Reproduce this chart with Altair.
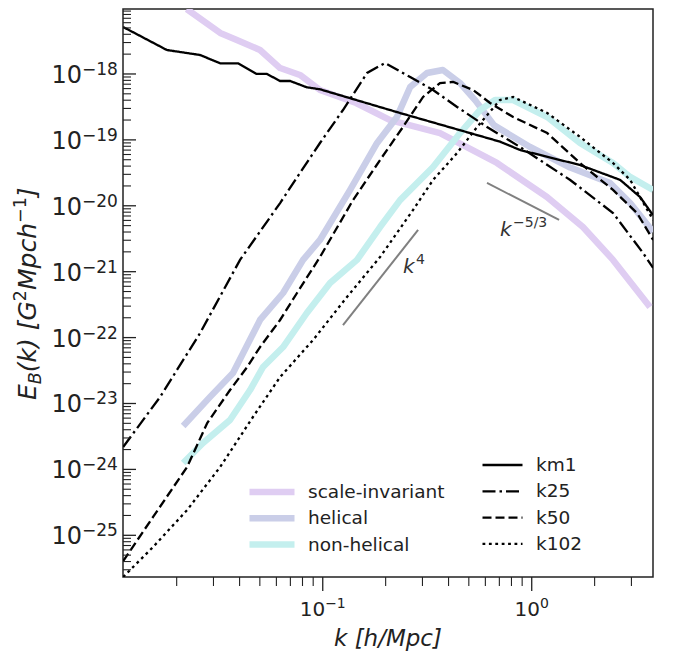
import altair as alt
import pandas as pd

# ---------------- data ----------------
km1_k = [0.01109, 0.01795, 0.0259, 0.0323, 0.0394, 0.0483, 0.0540, 0.0625, 0.0698, 0.0838, 0.0970,
         0.234, 0.705, 0.879, 1.70, 2.65, 3.30, 3.80]
km1_E = [5.16e-18, 2.31e-18, 1.94e-18, 1.45e-18, 1.45e-18, 1.0e-18, 1.0e-18, 7.83e-19, 7.83e-19, 6.28e-19, 5.86e-19,
         2.56e-19, 9.4e-20, 7.03e-20, 4.16e-20, 2.47e-20, 1.36e-20, 7.24e-21]

k25_k = [0.01109, 0.01667, 0.02588, 0.0402, 0.0625, 0.0778, 0.0970, 0.125, 0.163, 0.1986, 0.262, 0.3373,
         0.4395, 0.611, 0.879, 1.528, 2.449, 3.41, 3.81]
k25_E = [2.19e-24, 1.26e-23, 1.17e-22, 1.51e-21, 1.10e-20, 3.15e-20, 8.97e-20, 2.84e-19, 1.035e-18, 1.47e-18, 9.0e-19, 5.71e-19,
         3.16e-19, 1.57e-19, 7.80e-20, 2.46e-20, 7.78e-21, 1.92e-21, 1.14e-21]

k50_k = [0.01109, 0.01542, 0.02244, 0.0280, 0.0360, 0.0435, 0.0501, 0.0625, 0.0753, 0.0970, 0.1396, 0.188,
         0.242, 0.302, 0.364, 0.421, 0.525, 0.632, 0.815, 1.186, 1.702, 2.449, 3.19, 3.81]
k50_E = [4.07e-26, 1.90e-25, 1.09e-24, 5.06e-24, 1.60e-23, 3.58e-23, 7.19e-23, 1.85e-22, 4.75e-22, 1.67e-21, 1.22e-20, 4.95e-20,
         1.57e-19, 4.48e-19, 7.29e-19, 7.57e-19, 5.71e-19, 3.63e-19, 2.22e-19, 1.27e-19, 4.46e-20, 1.74e-20, 7.78e-21, 3.03e-21]

k102_k = [0.01109, 0.01542, 0.02244, 0.0323, 0.04634, 0.0625, 0.0899, 0.1306, 0.188, 0.2704, 0.3373, 0.4395,
          0.548, 0.705, 0.815, 1.186, 1.702, 2.449, 2.958, 3.81]
k102_E = [2.33e-26, 6.65e-26, 2.42e-25, 1.09e-24, 6.24e-24, 2.52e-23, 9.2e-23, 4.13e-22, 1.67e-21, 8.63e-21, 2.47e-20, 6.32e-20,
          1.57e-19, 4.03e-19, 4.48e-19, 2.56e-19, 1.11e-19, 4.46e-20, 2.47e-20, 6.10e-21]

si_k = [0.02234, 0.0323, 0.0388, 0.0501, 0.0625, 0.0778, 0.0970, 0.1445, 0.210, 0.364, 0.682, 1.183, 1.758, 2.449, 3.68]
si_E = [9.68e-18, 4.19e-18, 3.28e-18, 2.31e-18, 1.23e-18, 9.66e-19, 5.71e-19, 3.63e-19, 2.00e-19, 1.27e-19, 4.46e-20,
        1.36e-20, 4.76e-21, 1.51e-21, 2.91e-22]

hel_k = [0.02148, 0.0289, 0.0372, 0.0501, 0.0646, 0.0805, 0.0970, 0.1352, 0.182, 0.2265, 0.262, 0.3155, 0.3758,
         0.454, 0.537, 0.661, 0.982, 1.528, 2.371, 2.958, 3.81]
hel_E = [4.56e-24, 1.26e-23, 2.90e-23, 1.85e-22, 4.75e-22, 1.51e-21, 3.03e-21, 1.74e-20, 8.97e-20, 2.23e-19, 6.35e-19, 1.035e-18, 1.15e-18,
         7.29e-19, 3.98e-19, 1.66e-19, 7.80e-20, 3.80e-20, 2.22e-20, 1.10e-20, 4.01e-21]

nh_k = [0.02148, 0.02673, 0.0360, 0.0449, 0.0518, 0.0646, 0.0839, 0.1084, 0.1459, 0.188, 0.2344, 0.3373, 0.454,
        0.566, 0.668, 0.815, 1.186, 1.702, 2.449, 2.958, 3.81]
nh_E = [1.25e-24, 2.51e-24, 5.62e-24, 1.60e-23, 3.58e-23, 7.19e-23, 2.36e-22, 6.75e-22, 1.51e-21, 4.76e-21, 1.22e-20, 3.88e-20, 1.27e-19,
        2.84e-19, 4.03e-19, 4.03e-19, 2.22e-19, 8.97e-20, 4.46e-20, 2.74e-20, 1.74e-20]

# power-law guide segments
k4_k = [0.125, 0.286]
k4_E = [1.55e-22, 4.30e-21]
k53_k = [0.611, 1.352]
k53_E = [2.22e-20, 6.1e-21]

models = ["scale-invariant", "helical", "non-helical"]
model_colors = ["#dfcdf2", "#cacee8", "#c4efee"]
runs = ["km1", "k25", "k50", "k102"]
run_dash = [[1, 0], [13, 4, 2.5, 4], [9, 4], [2.8, 3.6]]

y_label_exps = [-25, -24, -23, -22, -21, -20, -19, -18]
x_label_exps = [-1, 0]

XMIN, XMAX = 0.01107, 3.805
YMIN, YMAX = 2.33e-26, 9.68e-18

W, H = 530, 568
FONT = "DejaVu Sans"
TXT = "#222222"

# ---------------- tables ----------------
col_rows = []
for name, ks, Es in zip(models, [si_k, hel_k, nh_k], [si_E, hel_E, nh_E]):
    for i, (k, e) in enumerate(zip(ks, Es)):
        col_rows.append({"model": name, "k": k, "E": e, "i": i})
df_col = pd.DataFrame(col_rows)

blk_rows = []
for name, ks, Es in zip(runs, [km1_k, k25_k, k50_k, k102_k], [km1_E, k25_E, k50_E, k102_E]):
    for i, (k, e) in enumerate(zip(ks, Es)):
        blk_rows.append({"run": name, "k": k, "E": e, "i": i})
df_blk = pd.DataFrame(blk_rows)

guide_rows = []
for gname, ks, Es in [("k4", k4_k, k4_E), ("k53", k53_k, k53_E)]:
    for k, e in zip(ks, Es):
        guide_rows.append({"g": gname, "k": k, "E": e})
df_guide = pd.DataFrame(guide_rows)


def minus(e):
    return str(e).replace("-", "\u2212")


y_major = [10.0 ** e for e in range(-26, -16) if YMIN <= 10.0 ** e <= YMAX]
y_minor = [m * 10.0 ** e for e in range(-27, -16) for m in range(2, 10) if YMIN <= m * 10.0 ** e <= YMAX]
x_major = [10.0 ** e for e in range(-3, 2) if XMIN <= 10.0 ** e <= XMAX]
x_minor = [m * 10.0 ** e for e in range(-3, 2) for m in range(2, 10) if XMIN <= m * 10.0 ** e <= XMAX]

xscale = alt.Scale(type="log", domain=[XMIN, XMAX], nice=False)
yscale = alt.Scale(type="log", domain=[YMIN, YMAX], nice=False)


def X(field):
    return alt.X(field, scale=xscale, axis=None)


def Y(field):
    return alt.Y(field, scale=yscale, axis=None)


colored = alt.Chart(df_col).mark_line(strokeWidth=6.5, clip=True, strokeJoin="round").encode(
    x=X("k:Q"), y=Y("E:Q"),
    color=alt.Color("model:N", scale=alt.Scale(domain=models, range=model_colors),
                    legend=alt.Legend(orient="none", legendX=123, legendY=473, title=None,
                                      symbolType="stroke", symbolSize=2025, symbolStrokeWidth=6.5,
                                      labelFontSize=18.5, labelFont=FONT, labelColor=TXT,
                                      labelOffset=10, clipHeight=20, rowPadding=6.3, padding=0,
                                      symbolOpacity=1)),
    order=alt.Order("i:Q"),
)

guides = alt.Chart(df_guide).mark_line(color="#808080", strokeWidth=2).encode(
    x=X("k:Q"), y=Y("E:Q"), detail="g:N")

black = alt.Chart(df_blk).mark_line(color="black", strokeWidth=2.3, clip=True).encode(
    x=X("k:Q"), y=Y("E:Q"),
    strokeDash=alt.StrokeDash("run:N", scale=alt.Scale(domain=runs, range=run_dash),
                              legend=alt.Legend(orient="none", legendX=358, legendY=446, title=None,
                                                symbolType="stroke", symbolSize=1600,
                                                symbolStrokeWidth=2.3, symbolStrokeColor="black",
                                                labelFontSize=18.5, labelFont=FONT, labelColor=TXT,
                                                labelOffset=12, clipHeight=20, rowPadding=6.3,
                                                padding=0)),
    order=alt.Order("i:Q"),
)

# power-law annotations
ann4 = pd.DataFrame({"k": [0.242], "E": [9.5e-22], "t": ["k"], "s": ["4"]})
ann53 = pd.DataFrame({"k": [0.705], "E": [3.48e-21], "t": ["k"], "s": ["\u22125/3"]})
ANN = "#333333"
annots = []
for adf in (ann4, ann53):
    annots.append(alt.Chart(adf).mark_text(align="left", baseline="alphabetic", font=FONT, fontSize=20,
                                           fontStyle="italic", color=ANN).encode(
        x=X("k:Q"), y=Y("E:Q"), text="t:N"))
    annots.append(alt.Chart(adf).mark_text(align="left", baseline="alphabetic", font=FONT, fontSize=14,
                                           color=ANN, dx=13, dy=-9).encode(
        x=X("k:Q"), y=Y("E:Q"), text="s:N"))

# tick marks (y inward, x outward)
ytm = alt.Chart(pd.DataFrame({"v": y_major})).mark_rule(color=TXT, strokeWidth=1.3).encode(
    y=Y("v:Q"), x=alt.value(0), x2=alt.value(13))
ytn = alt.Chart(pd.DataFrame({"v": y_minor})).mark_rule(color=TXT, strokeWidth=1.1).encode(
    y=Y("v:Q"), x=alt.value(0), x2=alt.value(8))
xtm = alt.Chart(pd.DataFrame({"v": x_major})).mark_rule(color=TXT, strokeWidth=1.3).encode(
    x=X("v:Q"), y=alt.value(H), y2=alt.value(H + 14))
xtn = alt.Chart(pd.DataFrame({"v": x_minor})).mark_rule(color=TXT, strokeWidth=1.1).encode(
    x=X("v:Q"), y=alt.value(H), y2=alt.value(H + 9))

# y tick labels: 10^{e}
ylab_df = pd.DataFrame({"v": [10.0 ** e for e in y_label_exps], "t": ["10"] * len(y_label_exps),
                        "s": [minus(e) for e in y_label_exps]})
ylab_a = alt.Chart(ylab_df).mark_text(align="right", baseline="alphabetic", font=FONT, fontSize=24,
                                      color=TXT, dy=9).encode(y=Y("v:Q"), x=alt.value(-41), text="t:N")
ylab_b = alt.Chart(ylab_df).mark_text(align="left", baseline="alphabetic", font=FONT, fontSize=17,
                                      color=TXT, dy=1).encode(y=Y("v:Q"), x=alt.value(-41), text="s:N")

# x tick labels: 10^{e}
xlabs = []
for e in x_label_exps:
    sup = minus(e)
    sup_w = 14 * sum(0.838 if c == "\u2212" else 0.636 for c in sup)
    split = -(25.4 + sup_w) / 2 + 25.4
    xdf = pd.DataFrame({"v": [10.0 ** e], "t": ["10"], "s": [sup]})
    xlabs.append(alt.Chart(xdf).mark_text(align="right", baseline="alphabetic", font=FONT, fontSize=20,
                                          color=TXT, dx=split).encode(x=X("v:Q"), y=alt.value(H + 39), text="t:N"))
    xlabs.append(alt.Chart(xdf).mark_text(align="left", baseline="alphabetic", font=FONT, fontSize=14,
                                          color=TXT, dx=split).encode(x=X("v:Q"), y=alt.value(H + 31), text="s:N"))

# x-axis title
xt = alt.Chart(pd.DataFrame({"t": ["k [h/Mpc]"]})).mark_text(
    align="center", baseline="alphabetic", font=FONT, fontSize=23, fontStyle="italic", color=TXT).encode(
    x=alt.value(W / 2), y=alt.value(H + 69), text="t:N")

# y-axis title pieces: E_B(k) [G^2 Mpc h^-1]
pieces = [("E", 25, 0), ("B", 17.5, 5), ("(k) [G", 25, 0), ("2", 17.5, -10),
          ("Mpch", 25, 0), ("\u22121", 17.5, -10), ("]", 25, 0)]
adv = {"E": 0.632, "B": 0.686, "(": 0.39, "k": 0.579, ")": 0.39, " ": 0.318, "[": 0.39, "G": 0.775,
       "2": 0.636, "M": 0.863, "p": 0.635, "c": 0.55, "h": 0.634, "\u2212": 0.838, "1": 0.636, "]": 0.39}
YT_X = -87
ycur = 391
ytitle = []
for txt, fs, off in pieces:
    ytitle.append(alt.Chart(pd.DataFrame({"t": [txt]})).mark_text(
        angle=270, align="left", baseline="alphabetic", font=FONT, fontSize=fs,
        fontStyle="italic" if txt not in ("2", "\u22121") else "normal", color=TXT).encode(
        x=alt.value(YT_X + off), y=alt.value(ycur), text="t:N"))
    ycur -= fs * sum(adv[c] for c in txt)

chart = alt.layer(colored, guides, black, *annots, ytm, ytn, xtm, xtn, ylab_a, ylab_b, *xlabs, xt,
                  *ytitle).properties(
    width=W, height=H,
    autosize=alt.AutoSizeParams(type="none"),
    padding={"left": 115, "top": 1, "right": 12, "bottom": 80},
).configure(background="white").configure_view(stroke="#222222", strokeWidth=1.5)

chart.save("out.html", embed_options={"renderer": "svg", "actions": False})
